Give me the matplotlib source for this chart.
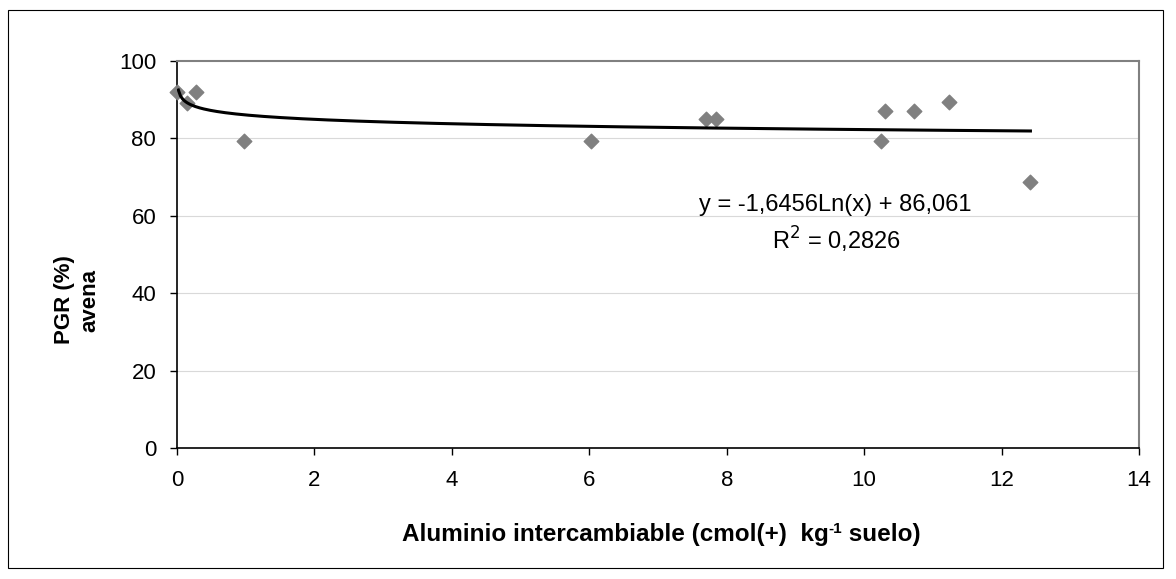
import numpy as np
import matplotlib
matplotlib.use("Agg")
import matplotlib.pyplot as plt
from matplotlib.transforms import offset_copy

# Data
al_x = [0.0, 0.15, 0.28, 0.97, 6.02, 7.7, 7.84, 10.24, 10.31, 10.72, 11.23, 12.42]
pgr_y = [92.0, 89.2, 92.0, 79.2, 79.2, 84.9, 85.0, 79.2, 87.2, 87.2, 89.5, 68.7]

# Logarithmic trendline coefficients (from the chart label)
trend_a = -1.6456
trend_b = 86.061
trend_range = (0.02, 12.42)

x_ticks = [0, 2, 4, 6, 8, 10, 12, 14]
y_ticks = [0, 20, 40, 60, 80, 100]

plt.rcParams["font.family"] = ["Liberation Sans", "DejaVu Sans"]

W, H = 1176, 579
fig = plt.figure(figsize=(W / 100, H / 100), dpi=100)
ax = fig.add_axes([177 / W, 1 - 448 / H, (1139 - 177) / W, (448 - 61) / H])

# outer frame
fig.patches.append(plt.Rectangle((8 / W, 11 / H), 1155 / W, 558 / H,
                                 transform=fig.transFigure, fill=False,
                                 edgecolor="black", linewidth=0.8))

for yv in y_ticks[1:-1]:
    ax.axhline(yv, color="#d9d9d9", linewidth=0.8, zorder=0)

ax.scatter(al_x, pgr_y, marker="D", s=55, color="#808080", zorder=3, clip_on=False)

xt = np.linspace(trend_range[0], trend_range[1], 400)
ax.plot(xt, trend_a * np.log(xt) + trend_b, color="black", linewidth=2.2, zorder=4)

ax.set_xlim(0, 14)
ax.set_ylim(0, 100)
ax.set_xticks(x_ticks)
ax.set_yticks(y_ticks)
ax.tick_params(labelsize=16, length=5, width=1, direction="out")
ax.tick_params(axis="x", pad=11)
ax.tick_params(axis="y", pad=10)

ax.spines["top"].set_color("#808080")
ax.spines["right"].set_color("#808080")
ax.spines["top"].set_linewidth(1.5)
ax.spines["right"].set_linewidth(1.5)
ax.spines["left"].set_linewidth(1.2)
ax.spines["bottom"].set_linewidth(1.2)

# x label in pieces so the superscript keeps a plain hyphen
fig.canvas.draw()
renderer = fig.canvas.get_renderer()
parts = [("Aluminio intercambiable (cmol(+)  kg", 17.5, 0),
         ("-1", 11, 8),
         (" suelo)", 17.5, 0)]
widths = []
for s, fs, _ in parts:
    t = fig.text(0, 0, s, fontsize=fs, fontweight="bold")
    widths.append(t.get_window_extent(renderer).width)
    t.remove()
x0 = 661 - sum(widths) / 2
for (s, fs, dy), w in zip(parts, widths):
    fig.text(x0 / W, 1 - (541 - dy) / H, s, fontsize=fs, fontweight="bold",
             ha="left", va="baseline")
    x0 += w

fig.text(77 / W, 1 - 300 / H, "PGR (%)\navena", fontsize=16, fontweight="bold",
         rotation=90, ha="center", va="center", multialignment="center",
         linespacing=1.3)

ax.text(835 / W, 1 - 205 / H, "y = -1,6456Ln(x) + 86,061", fontsize=17,
        ha="center", va="center", transform=fig.transFigure)
ax.text(836 / W, 1 - 240 / H, r"R$^2$ = 0,2826", fontsize=17,
        ha="center", va="center", transform=fig.transFigure)

fig.savefig("out.png", dpi=100)
